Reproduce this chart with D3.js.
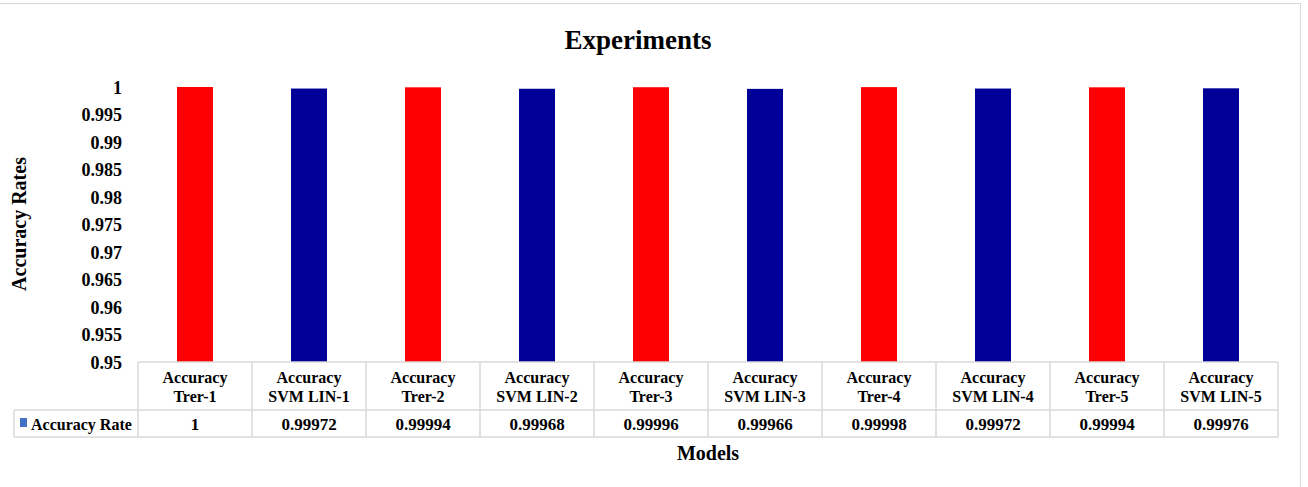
<!DOCTYPE html>
<html><head><meta charset="utf-8">
<script src="https://cdn.jsdelivr.net/npm/d3@7"></script>
<style>body{margin:0;background:#fff}svg{display:block}svg text{font-family:"Liberation Serif","DejaVu Serif",serif}</style>
</head><body><svg id="c" width="1308" height="487"></svg>
<script>
const categories = ["Accuracy Trer-1","Accuracy SVM LIN-1","Accuracy Trer-2","Accuracy SVM LIN-2","Accuracy Trer-3","Accuracy SVM LIN-3","Accuracy Trer-4","Accuracy SVM LIN-4","Accuracy Trer-5","Accuracy SVM LIN-5"];
const catLine1 = ["Accuracy","Accuracy","Accuracy","Accuracy","Accuracy","Accuracy","Accuracy","Accuracy","Accuracy","Accuracy"];
const catLine2 = ["Trer-1","SVM LIN-1","Trer-2","SVM LIN-2","Trer-3","SVM LIN-3","Trer-4","SVM LIN-4","Trer-5","SVM LIN-5"];
const values = [1, 0.99972, 0.99994, 0.99968, 0.99996, 0.99966, 0.99998, 0.99972, 0.99994, 0.99976];
const valueLabels = ["1","0.99972","0.99994","0.99968","0.99996","0.99966","0.99998","0.99972","0.99994","0.99976"];
const yTicks = [0.95,0.955,0.96,0.965,0.97,0.975,0.98,0.985,0.99,0.995,1];
const yTickLabels = ["0.95","0.955","0.96","0.965","0.97","0.975","0.98","0.985","0.99","0.995","1"];
const barColors = ["#ff0000","#000099"];
const seriesName = "Accuracy Rate";

const svg = d3.select("#c");
const L = 138, R = 1278, T = 87, B = 362;
const x = d3.scaleBand().domain(categories).range([L, R]).paddingInner(0).paddingOuter(0);
const y = d3.scaleLinear().domain([0.95, 1]).range([B, T]);
const gridC = "#d9d9d9";

// outer border
svg.append("line").attr("x1",0).attr("x2",1300).attr("y1",3.5).attr("y2",3.5).attr("stroke",gridC);
svg.append("line").attr("x1",1300.5).attr("x2",1300.5).attr("y1",3).attr("y2",487).attr("stroke",gridC);

// title
svg.append("text").attr("x",638).attr("y",49).attr("text-anchor","middle")
  .attr("font-size",27).attr("font-weight","bold").text("Experiments");

// y axis labels
const yAxis = d3.axisLeft(y).tickValues(yTicks).tickSize(0).tickPadding(0)
  .tickFormat((d,i)=>yTickLabels[i]);
const gy = svg.append("g").attr("transform",`translate(122,0)`).call(yAxis);
gy.select(".domain").remove();
gy.selectAll("text").attr("font-size",18).attr("font-weight","bold")
  .style("font-family","Liberation Serif, serif").attr("fill","#000").attr("dy","0.35em");

// y axis title
svg.append("text").attr("transform","translate(26,224) rotate(-90)").attr("text-anchor","middle")
  .attr("font-size",20).attr("font-weight","bold").text("Accuracy Rates");

// bars
const bw = 36;
svg.selectAll("rect.bar").data(values).join("rect").attr("class","bar")
  .attr("x",(d,i)=>x(categories[i]) + x.bandwidth()/2 - bw/2)
  .attr("width",bw)
  .attr("y",d=>y(d)).attr("height",d=>y(0.95)-y(d))
  .attr("fill",(d,i)=>barColors[i%2]);

// data table
const rowMid = 410, rowBot = 437, legL = 14;
const tg = svg.append("g").attr("stroke",gridC).attr("stroke-width",1.5).attr("fill","none");
tg.append("line").attr("x1",L).attr("x2",R).attr("y1",B).attr("y2",B);
tg.append("line").attr("x1",legL).attr("x2",R).attr("y1",rowMid).attr("y2",rowMid);
tg.append("line").attr("x1",legL).attr("x2",R).attr("y1",rowBot).attr("y2",rowBot);
tg.append("line").attr("x1",legL).attr("x2",legL).attr("y1",rowMid).attr("y2",rowBot);
const edges = categories.map(c=>x(c)).concat([R]);
tg.selectAll("line.v").data(edges).join("line").attr("class","v")
  .attr("x1",d=>d).attr("x2",d=>d).attr("y1",B).attr("y2",rowBot);

const cx = (i)=>x(categories[i]) + x.bandwidth()/2;
svg.selectAll("text.c1").data(catLine1).join("text").attr("class","c1")
  .attr("x",(d,i)=>cx(i)).attr("y",383).attr("text-anchor","middle")
  .attr("font-size",16).attr("font-weight","bold").text(d=>d);
svg.selectAll("text.c2").data(catLine2).join("text").attr("class","c2")
  .attr("x",(d,i)=>cx(i)).attr("y",402).attr("text-anchor","middle")
  .attr("font-size",16).attr("font-weight","bold").text(d=>d);
svg.selectAll("text.v").data(valueLabels).join("text").attr("class","v")
  .attr("x",(d,i)=>cx(i)).attr("y",430).attr("text-anchor","middle")
  .attr("font-size",17).attr("font-weight","bold").text(d=>d);

// legend key
svg.append("rect").attr("x",20).attr("y",418).attr("width",7).attr("height",9).attr("fill","#4472c4");
svg.append("text").attr("x",31).attr("y",430).attr("font-size",16).attr("font-weight","bold").text(seriesName);

// x axis title
svg.append("text").attr("x",708).attr("y",460).attr("text-anchor","middle")
  .attr("font-size",20).attr("font-weight","bold").text("Models");
</script></body></html>
